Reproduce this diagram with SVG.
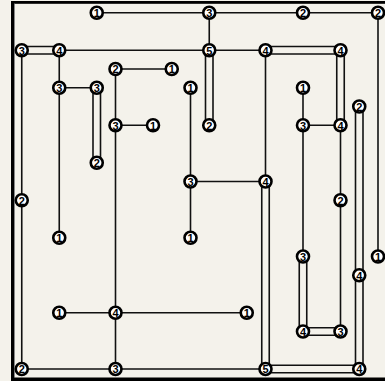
<svg xmlns="http://www.w3.org/2000/svg" width="385" height="381" viewBox="0 0 385 381">
<style>
.bg{fill:#f4f2eb}
.frame{fill:#000}
.c line{stroke:#111;stroke-width:1.6;fill:none}
.n circle{fill:#fff;stroke:#000;stroke-width:2.6}
.n text{font-family:"Liberation Sans",Arial,sans-serif;font-size:11px;font-weight:bold;fill:#000;text-anchor:middle;dominant-baseline:central}
</style>
<rect class="bg" x="0" y="0" width="385" height="381"/>
<rect class="frame" x="11" y="1" width="374" height="2.8"/>
<rect class="frame" x="11" y="1" width="3" height="380"/>
<rect x="14" y="3.8" width="1" height="374" fill="#888"/>
<rect class="frame" x="11" y="377.5" width="374" height="3.5"/>
<g id="connectors" class="c">
<line x1="96.75" y1="12.75" x2="209.25" y2="12.75"/>
<line x1="209.25" y1="12.75" x2="303" y2="12.75"/>
<line x1="303" y1="12.75" x2="378" y2="12.75"/>
<line x1="59.25" y1="50.25" x2="209.25" y2="50.25"/>
<line x1="209.25" y1="50.25" x2="265.5" y2="50.25"/>
<line x1="59.25" y1="87.75" x2="96.75" y2="87.75"/>
<line x1="115.5" y1="69" x2="171.75" y2="69"/>
<line x1="115.5" y1="125.25" x2="153" y2="125.25"/>
<line x1="303" y1="125.25" x2="340.5" y2="125.25"/>
<line x1="190.5" y1="181.5" x2="265.5" y2="181.5"/>
<line x1="59.25" y1="312.75" x2="115.5" y2="312.75"/>
<line x1="115.5" y1="312.75" x2="246.75" y2="312.75"/>
<line x1="21.75" y1="369" x2="115.5" y2="369"/>
<line x1="115.5" y1="369" x2="265.5" y2="369"/>
<line x1="209.25" y1="12.75" x2="209.25" y2="50.25"/>
<line x1="21.75" y1="50.25" x2="21.75" y2="200.25"/>
<line x1="21.75" y1="200.25" x2="21.75" y2="369"/>
<line x1="59.25" y1="50.25" x2="59.25" y2="87.75"/>
<line x1="59.25" y1="87.75" x2="59.25" y2="237.75"/>
<line x1="115.5" y1="69" x2="115.5" y2="125.25"/>
<line x1="115.5" y1="125.25" x2="115.5" y2="312.75"/>
<line x1="115.5" y1="312.75" x2="115.5" y2="369"/>
<line x1="190.5" y1="87.75" x2="190.5" y2="181.5"/>
<line x1="190.5" y1="181.5" x2="190.5" y2="237.75"/>
<line x1="265.5" y1="50.25" x2="265.5" y2="181.5"/>
<line x1="303" y1="87.75" x2="303" y2="125.25"/>
<line x1="303" y1="125.25" x2="303" y2="256.5"/>
<line x1="340.5" y1="125.25" x2="340.5" y2="200.25"/>
<line x1="340.5" y1="200.25" x2="340.5" y2="331.5"/>
<line x1="378" y1="12.75" x2="378" y2="256.5"/>
<line x1="21.75" y1="46.5" x2="59.25" y2="46.5"/><line x1="21.75" y1="54" x2="59.25" y2="54"/>
<line x1="265.5" y1="46.5" x2="340.5" y2="46.5"/><line x1="265.5" y1="54" x2="340.5" y2="54"/>
<line x1="303" y1="327.75" x2="340.5" y2="327.75"/><line x1="303" y1="335.25" x2="340.5" y2="335.25"/>
<line x1="265.5" y1="365.25" x2="359.25" y2="365.25"/><line x1="265.5" y1="372.75" x2="359.25" y2="372.75"/>
<line x1="93" y1="87.75" x2="93" y2="162.75"/><line x1="100.5" y1="87.75" x2="100.5" y2="162.75"/>
<line x1="205.5" y1="50.25" x2="205.5" y2="125.25"/><line x1="213" y1="50.25" x2="213" y2="125.25"/>
<line x1="336.75" y1="50.25" x2="336.75" y2="125.25"/><line x1="344.25" y1="50.25" x2="344.25" y2="125.25"/>
<line x1="261.75" y1="181.5" x2="261.75" y2="369"/><line x1="269.25" y1="181.5" x2="269.25" y2="369"/>
<line x1="299.25" y1="256.5" x2="299.25" y2="331.5"/><line x1="306.75" y1="256.5" x2="306.75" y2="331.5"/>
<line x1="355.5" y1="106.5" x2="355.5" y2="275.25"/><line x1="363" y1="106.5" x2="363" y2="275.25"/>
<line x1="355.5" y1="275.25" x2="355.5" y2="369"/><line x1="363" y1="275.25" x2="363" y2="369"/>
</g>
<g id="n-4-0" class="n"><circle cx="96.75" cy="12.75" r="6"/><text x="96.75" y="13">1</text></g>
<g id="n-10-0" class="n"><circle cx="209.25" cy="12.75" r="6"/><text x="209.25" y="13">3</text></g>
<g id="n-15-0" class="n"><circle cx="303" cy="12.75" r="6"/><text x="303" y="13">2</text></g>
<g id="n-19-0" class="n"><circle cx="378" cy="12.75" r="6"/><text x="378" y="13">2</text></g>
<g id="n-0-2" class="n"><circle cx="21.75" cy="50.25" r="6"/><text x="21.75" y="50.5">3</text></g>
<g id="n-2-2" class="n"><circle cx="59.25" cy="50.25" r="6"/><text x="59.25" y="50.5">4</text></g>
<g id="n-10-2" class="n"><circle cx="209.25" cy="50.25" r="6"/><text x="209.25" y="50.5">5</text></g>
<g id="n-13-2" class="n"><circle cx="265.5" cy="50.25" r="6"/><text x="265.5" y="50.5">4</text></g>
<g id="n-17-2" class="n"><circle cx="340.5" cy="50.25" r="6"/><text x="340.5" y="50.5">4</text></g>
<g id="n-5-3" class="n"><circle cx="115.5" cy="69" r="6"/><text x="115.5" y="69.25">2</text></g>
<g id="n-8-3" class="n"><circle cx="171.75" cy="69" r="6"/><text x="171.75" y="69.25">1</text></g>
<g id="n-2-4" class="n"><circle cx="59.25" cy="87.75" r="6"/><text x="59.25" y="88">3</text></g>
<g id="n-4-4" class="n"><circle cx="96.75" cy="87.75" r="6"/><text x="96.75" y="88">3</text></g>
<g id="n-9-4" class="n"><circle cx="190.5" cy="87.75" r="6"/><text x="190.5" y="88">1</text></g>
<g id="n-15-4" class="n"><circle cx="303" cy="87.75" r="6"/><text x="303" y="88">1</text></g>
<g id="n-18-5" class="n"><circle cx="359.25" cy="106.5" r="6"/><text x="359.25" y="106.75">2</text></g>
<g id="n-5-6" class="n"><circle cx="115.5" cy="125.25" r="6"/><text x="115.5" y="125.5">3</text></g>
<g id="n-7-6" class="n"><circle cx="153" cy="125.25" r="6"/><text x="153" y="125.5">1</text></g>
<g id="n-10-6" class="n"><circle cx="209.25" cy="125.25" r="6"/><text x="209.25" y="125.5">2</text></g>
<g id="n-15-6" class="n"><circle cx="303" cy="125.25" r="6"/><text x="303" y="125.5">3</text></g>
<g id="n-17-6" class="n"><circle cx="340.5" cy="125.25" r="6"/><text x="340.5" y="125.5">4</text></g>
<g id="n-4-8" class="n"><circle cx="96.75" cy="162.75" r="6"/><text x="96.75" y="163">2</text></g>
<g id="n-9-9" class="n"><circle cx="190.5" cy="181.5" r="6"/><text x="190.5" y="181.75">3</text></g>
<g id="n-13-9" class="n"><circle cx="265.5" cy="181.5" r="6"/><text x="265.5" y="181.75">4</text></g>
<g id="n-0-10" class="n"><circle cx="21.75" cy="200.25" r="6"/><text x="21.75" y="200.5">2</text></g>
<g id="n-17-10" class="n"><circle cx="340.5" cy="200.25" r="6"/><text x="340.5" y="200.5">2</text></g>
<g id="n-2-12" class="n"><circle cx="59.25" cy="237.75" r="6"/><text x="59.25" y="238">1</text></g>
<g id="n-9-12" class="n"><circle cx="190.5" cy="237.75" r="6"/><text x="190.5" y="238">1</text></g>
<g id="n-15-13" class="n"><circle cx="303" cy="256.5" r="6"/><text x="303" y="256.75">3</text></g>
<g id="n-19-13" class="n"><circle cx="378" cy="256.5" r="6"/><text x="378" y="256.75">1</text></g>
<g id="n-18-14" class="n"><circle cx="359.25" cy="275.25" r="6"/><text x="359.25" y="275.5">4</text></g>
<g id="n-2-16" class="n"><circle cx="59.25" cy="312.75" r="6"/><text x="59.25" y="313">1</text></g>
<g id="n-5-16" class="n"><circle cx="115.5" cy="312.75" r="6"/><text x="115.5" y="313">4</text></g>
<g id="n-12-16" class="n"><circle cx="246.75" cy="312.75" r="6"/><text x="246.75" y="313">1</text></g>
<g id="n-15-17" class="n"><circle cx="303" cy="331.5" r="6"/><text x="303" y="331.75">4</text></g>
<g id="n-17-17" class="n"><circle cx="340.5" cy="331.5" r="6"/><text x="340.5" y="331.75">3</text></g>
<g id="n-0-19" class="n"><circle cx="21.75" cy="369" r="6"/><text x="21.75" y="369.25">2</text></g>
<g id="n-5-19" class="n"><circle cx="115.5" cy="369" r="6"/><text x="115.5" y="369.25">3</text></g>
<g id="n-13-19" class="n"><circle cx="265.5" cy="369" r="6"/><text x="265.5" y="369.25">5</text></g>
<g id="n-18-19" class="n"><circle cx="359.25" cy="369" r="6"/><text x="359.25" y="369.25">4</text></g>
</svg>
